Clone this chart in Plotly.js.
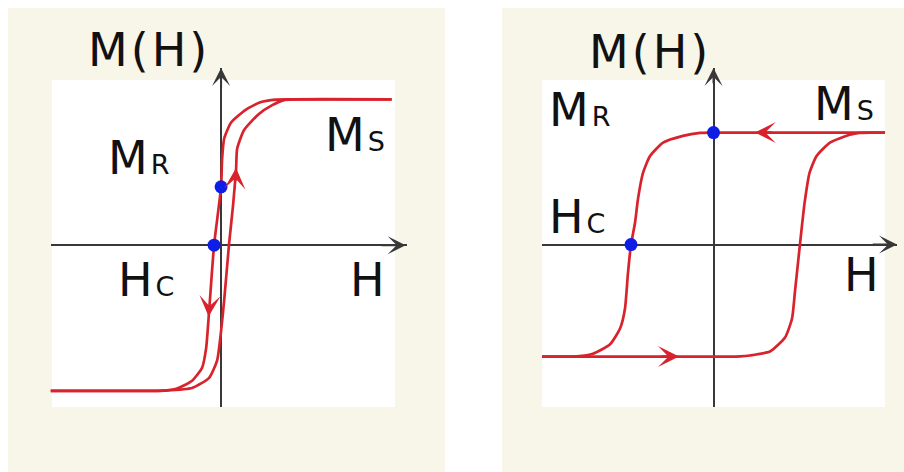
<!DOCTYPE html>
<html>
<head>
<meta charset="utf-8">
<script src="https://cdn.plot.ly/plotly-3.0.1.min.js"></script>
<style>
  html, body { margin: 0; padding: 0; background: #ffffff; }
  #chart { width: 904px; height: 472px; }
</style>
</head>
<body>
<div id="chart"></div>
<script>
// Soft magnet: narrow loop (field H, magnetisation M normalised to Ms)
const softUpH   = [-10, -4.0, -3.33, -1.70, -0.70, -0.23, 0.0, 0.18, 0.47, 0.70, 0.88, 0.94, 1.35, 2.22, 3.0, 3.68, 4.3, 10];
const softUpM   = [-1, -1, -0.998, -0.98, -0.91, -0.79, -0.59, -0.38, 0.01, 0.27, 0.52, 0.66, 0.79, 0.90, 0.96, 0.995, 1, 1];
const softDownH = [10, 3.8, 3.22, 2.3, 1.46, 0.58, 0.18, 0.06, 0.0, -0.41, -0.70, -0.88, -1.11, -1.70, -2.63, -3.5, -4.2, -10];
const softDownM = [1, 1, 0.998, 0.98, 0.93, 0.84, 0.73, 0.59, 0.40, 0.0, -0.45, -0.71, -0.84, -0.93, -0.985, -0.998, -1, -1];
// remanence and coercive points
const softPtsH  = [0, -0.41];
const softPtsM  = [0.40, 0];
// direction markers: [tipH, tipM, tailH, tailM]
const softDirs  = [[0.88, 0.53, 0.83, 0.43], [-0.73, -0.49, -0.68, -0.40]];

// Hard magnet: wide square loop
const hardDownH = [10, -0.2, -0.79, -1.78, -2.94, -3.70, -4.11, -4.40, -4.58, -4.81, -4.99, -5.16, -5.45, -6.03, -7.03, -7.96, -8.8, -10];
const hardDownM = [1, 1, 0.997, 0.97, 0.91, 0.79, 0.64, 0.41, 0.19, 0.0, -0.26, -0.57, -0.75, -0.89, -0.975, -0.998, -1, -1];
const hardUpH   = [-10, 0.9, 1.55, 2.13, 3.29, 4.17, 4.58, 4.75, 5.04, 5.31, 5.60, 6.01, 6.79, 7.96, 8.5, 9.2, 10];
const hardUpM   = [-1, -1, -0.998, -0.99, -0.955, -0.83, -0.66, -0.42, 0.0, 0.37, 0.64, 0.79, 0.91, 0.98, 0.997, 1, 1];
const hardPtsH  = [0, -4.81];
const hardPtsM  = [1, 0];
const hardDirs  = [[2.41, 1, 3.5, 1], [-2.01, -1, -3.1, -1]];

// axis arrow tips: [H tip, M tip]
const softAxisTips = [10.82, 1.215];
const hardAxisTips = [10.7, 1.576];

const W = 904, H = 472;
const px = v => v / W;
const py = v => 1 - v / H;

const RED = '#d8232c';
const BLUE = '#0f1ee6';
const AXIS = '#383838';

function loop(x, y, xa, ya) {
  return {
    x: x, y: y, xaxis: xa, yaxis: ya, type: 'scatter', mode: 'lines',
    line: { color: RED, width: 2.7, shape: 'spline', smoothing: 0.55 },
    hoverinfo: 'skip'
  };
}
function dots(x, y, xa, ya) {
  return {
    x: x, y: y, xaxis: xa, yaxis: ya, type: 'scatter', mode: 'markers',
    marker: { color: BLUE, size: 13 }, cliponaxis: false, hoverinfo: 'skip'
  };
}

const data = [
  loop(softUpH, softUpM, 'x', 'y'),
  loop(softDownH, softDownM, 'x', 'y'),
  dots(softPtsH, softPtsM, 'x', 'y'),
  loop(hardDownH, hardDownM, 'x2', 'y2'),
  loop(hardUpH, hardUpM, 'x2', 'y2'),
  dots(hardPtsH, hardPtsM, 'x2', 'y2')
];

const axisBase = {
  showgrid: false, showticklabels: false, ticks: '', showline: false,
  zeroline: true, zerolinecolor: AXIS, zerolinewidth: 2, fixedrange: true
};

const annotations = [];

// arrowheads closing each coordinate axis
function axisArrows(tips, xr, yr) {
  annotations.push({
    x: tips[0], y: 0, ax: tips[0] - 1.5, ay: 0, xref: xr, yref: yr, axref: xr, ayref: yr,
    showarrow: true, arrowhead: 3, arrowsize: 1.5, arrowwidth: 2, arrowcolor: AXIS, text: ''
  });
  annotations.push({
    x: 0, y: tips[1], ax: 0, ay: tips[1] - 0.15, xref: xr, yref: yr, axref: xr, ayref: yr,
    showarrow: true, arrowhead: 3, arrowsize: 1.5, arrowwidth: 2, arrowcolor: AXIS, text: ''
  });
}
axisArrows(softAxisTips, 'x', 'y');
axisArrows(hardAxisTips, 'x2', 'y2');

// red direction arrows along the loops
function dirArrows(list, xr, yr) {
  list.forEach(d => annotations.push({
    x: d[0], y: d[1], ax: d[2], ay: d[3], xref: xr, yref: yr, axref: xr, ayref: yr,
    showarrow: true, arrowhead: 3, arrowsize: 1.35, arrowwidth: 2.6, arrowcolor: RED, text: ''
  }));
}
dirArrows(softDirs, 'x', 'y');
dirArrows(hardDirs, 'x2', 'y2');

// text labels
const BIG = 46, SMALL = 27;
function label(text, left, midY) {
  annotations.push({
    text: '<span style="letter-spacing:3px">' + text + '</span>',
    xref: 'paper', yref: 'paper', x: px(left), y: py(midY),
    xanchor: 'left', yanchor: 'middle', showarrow: false,
    font: { family: 'DejaVu Sans', size: BIG, color: '#111111' }
  });
}
const sub = s => `<span style="font-size:${SMALL}px">${s}</span>`;

label('M(H)', 86, 50);
label('M' + sub('R'), 106, 158);
label('M' + sub('S'), 323, 135);
label('H' + sub('C'), 116, 280);
label('H', 348, 280);

label('M(H)', 587, 52);
label('M' + sub('R'), 547, 110);
label('M' + sub('S'), 812, 104);
label('H' + sub('C'), 547, 217);
label('H', 842, 275);

const shapes = [
  { type: 'rect', xref: 'paper', yref: 'paper', x0: px(8), x1: px(445), y0: py(472), y1: py(8),
    fillcolor: '#f8f5e9', line: { width: 0 }, layer: 'below' },
  { type: 'rect', xref: 'paper', yref: 'paper', x0: px(502), x1: px(904), y0: py(472), y1: py(8),
    fillcolor: '#f8f5e9', line: { width: 0 }, layer: 'below' },
  { type: 'rect', xref: 'paper', yref: 'paper', x0: px(52), x1: px(395), y0: py(407), y1: py(80),
    fillcolor: '#ffffff', line: { width: 0 }, layer: 'below' },
  { type: 'rect', xref: 'paper', yref: 'paper', x0: px(542), x1: px(885), y0: py(407), y1: py(80),
    fillcolor: '#ffffff', line: { width: 0 }, layer: 'below' }
];

const layout = {
  width: W, height: H,
  margin: { l: 0, r: 0, t: 0, b: 0 },
  paper_bgcolor: '#ffffff',
  plot_bgcolor: 'rgba(0,0,0,0)',
  showlegend: false,
  xaxis: Object.assign({}, axisBase, { domain: [px(50.5), px(407)], range: [-10, 10.9], anchor: 'y' }),
  yaxis: Object.assign({}, axisBase, { domain: [py(407), py(68)], range: [-1.11, 1.215], anchor: 'x' }),
  xaxis2: Object.assign({}, axisBase, { domain: [px(542), px(897)], range: [-10, 10.7], anchor: 'y2' }),
  yaxis2: Object.assign({}, axisBase, { domain: [py(407), py(68)], range: [-1.45, 1.576], anchor: 'x2' }),
  shapes: shapes,
  annotations: annotations
};

Plotly.newPlot('chart', data, layout, { staticPlot: true, displayModeBar: false });
</script>
</body>
</html>
